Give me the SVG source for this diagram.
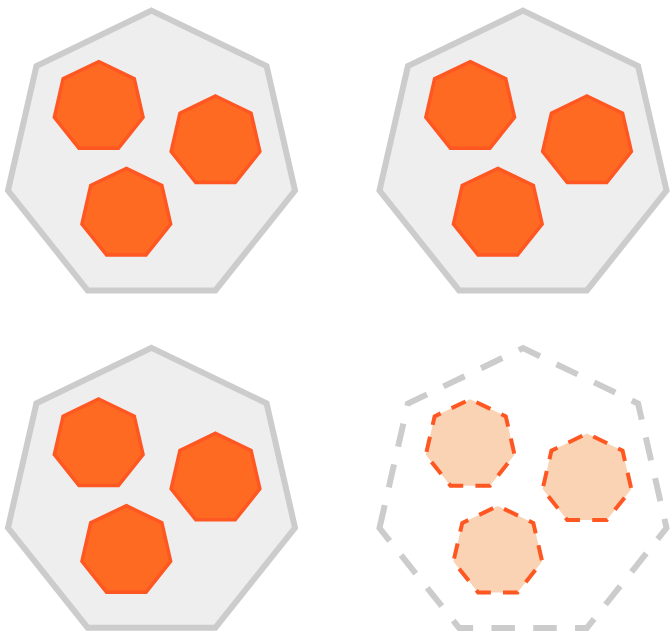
<svg xmlns="http://www.w3.org/2000/svg" xmlns:xlink="http://www.w3.org/1999/xlink" width="671" height="634" viewBox="0 0 671 634">
<style>
.big{fill:#eeeeee;stroke:#cccccc;stroke-width:6}
.big-dash{fill:none;stroke:#cccccc;stroke-width:6;stroke-dasharray:23.5 18.3}
.pod{fill:#ff6a23;stroke:#ff5722;stroke-width:3.5}
.pod-dash{fill:#fad3b4;stroke:#ff5722;stroke-width:4;stroke-dasharray:15.5 12.15;stroke-dashoffset:20.75}
</style>
<defs>
<polygon id="hbig" points="0,-147.2 115.08,-91.78 143.51,32.75 63.87,132.63 -63.87,132.63 -143.51,32.75 -115.08,-91.78"/>
<polygon id="hbig2" points="-143.51,32.75 -115.08,-91.78 0,-147.2 115.08,-91.78 143.51,32.75 63.87,132.63 -63.87,132.63"/>
<polygon id="hsmall" points="0,-45.5 35.57,-28.37 44.36,10.12 19.74,41 -19.74,41 -44.36,10.12 -35.57,-28.37"/>
</defs>
<g id="node-tl">
<use xlink:href="#hbig" class="big" x="151.5" y="157.8"/>
<use xlink:href="#hsmall" class="pod" x="98.7" y="107.2"/>
<use xlink:href="#hsmall" class="pod" x="215.5" y="141.5"/>
<use xlink:href="#hsmall" class="pod" x="126.3" y="213.9"/>
</g>
<g id="node-tr">
<use xlink:href="#hbig" class="big" x="523" y="157.8"/>
<use xlink:href="#hsmall" class="pod" x="470.2" y="107.2"/>
<use xlink:href="#hsmall" class="pod" x="587" y="141.5"/>
<use xlink:href="#hsmall" class="pod" x="497.8" y="213.9"/>
</g>
<g id="node-bl">
<use xlink:href="#hbig" class="big" x="151.5" y="495.1"/>
<use xlink:href="#hsmall" class="pod" x="98.7" y="444.5"/>
<use xlink:href="#hsmall" class="pod" x="215.5" y="478.8"/>
<use xlink:href="#hsmall" class="pod" x="126.3" y="551.2"/>
</g>
<g id="node-br">
<use xlink:href="#hbig2" class="big-dash" x="523" y="495.3"/>
<use xlink:href="#hsmall" class="pod-dash" x="470.2" y="444.7"/>
<use xlink:href="#hsmall" class="pod-dash" x="587" y="479"/>
<use xlink:href="#hsmall" class="pod-dash" x="497.8" y="551.4"/>
</g>
<g id="connectors"></g>
</svg>
